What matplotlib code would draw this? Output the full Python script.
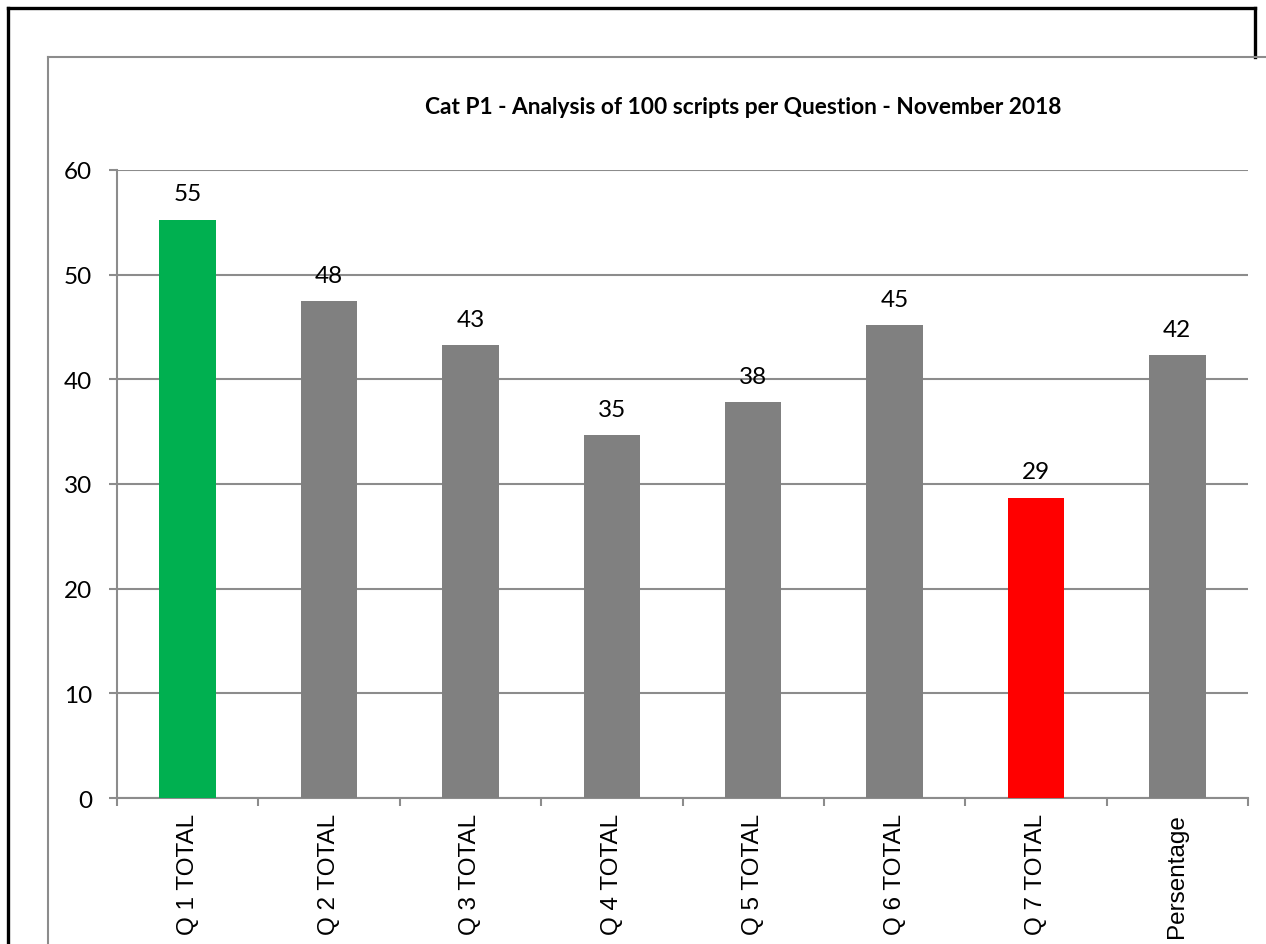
import matplotlib.pyplot as plt
from matplotlib.lines import Line2D
import numpy as np

categories = ["Q 1 TOTAL", "Q 2 TOTAL", "Q 3 TOTAL", "Q 4 TOTAL",
              "Q 5 TOTAL", "Q 6 TOTAL", "Q 7 TOTAL", "Persentage"]
values = [55.25, 47.45, 43.3, 34.7, 37.85, 45.2, 28.7, 42.3]
labels = ["55", "48", "43", "35", "38", "45", "29", "42"]
colors = ["#00B050", "#808080", "#808080", "#808080",
          "#808080", "#808080", "#FF0000", "#808080"]
title = "Cat P1 - Analysis of 100 scripts per Question - November 2018"

grid_col = "#8C8C8C"

fig = plt.figure(figsize=(12.66, 9.45), dpi=100)
W, H = 1266, 945

# outer black frame (open at bottom)
def px(x, y):
    return x / W, 1 - y / H

for (x0, y0), (x1, y1) in [((8, 950), (8, 9)), ((8, 9), (1255, 9)), ((1255, 9), (1255, 58))]:
    a, b = px(x0, y0)
    c, d = px(x1, y1)
    fig.add_artist(Line2D([a, c], [b, d], color="black", lw=2.4, solid_capstyle="projecting"))

# inner gray chart border
for (x0, y0), (x1, y1) in [((48, 950), (48, 58)), ((48, 58), (1270, 58))]:
    a, b = px(x0, y0)
    c, d = px(x1, y1)
    fig.add_artist(Line2D([a, c], [b, d], color=grid_col, lw=1.5))

ax = fig.add_axes([117 / W, 1 - 799 / H, (1248 - 117) / W, (799 - 171) / H])
x = np.arange(len(categories))
ax.bar(x, values, width=0.4, color=colors, zorder=3)

for xi, v, lab in zip(x, values, labels):
    ax.annotate(lab, (xi, v), xytext=(0, 11), textcoords="offset points",
                ha="center", va="bottom", fontsize=17.5, family="Lato")

ax.set_xlim(-0.5, len(categories) - 0.5)
ax.set_ylim(0, 60)
ax.set_yticks(range(0, 61, 10))
ax.yaxis.grid(True, color=grid_col, lw=1.5, zorder=0)
ax.set_axisbelow(True)

ax.set_xticks(x)
ax.set_xticklabels(categories, rotation=90, fontsize=17.5, family="Liberation Sans")
ax.set_xticks(np.arange(-0.5, len(categories), 1), minor=True)
ax.tick_params(axis="x", which="major", length=0, pad=11)
ax.tick_params(axis="x", which="minor", length=6, width=1.5, color=grid_col, direction="out")
ax.tick_params(axis="y", length=6, width=1.5, color=grid_col, pad=12)
for t in ax.get_yticklabels():
    t.set_fontsize(17.5)
    t.set_family("Lato")

for s in ["top", "right"]:
    ax.spines[s].set_visible(False)
for s in ["left", "bottom"]:
    ax.spines[s].set_color(grid_col)
    ax.spines[s].set_linewidth(1.5)

fig.text(743 / W, 1 - 108 / H, title, ha="center", va="center",
         fontsize=16.4, fontweight="bold", family="Lato")

fig.savefig("out.png", dpi=100)
